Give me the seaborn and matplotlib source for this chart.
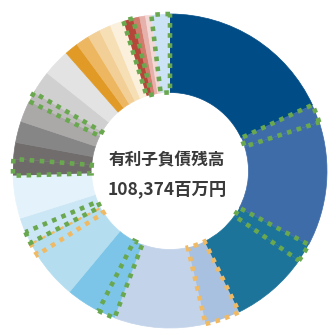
import matplotlib
matplotlib.use("Agg")
import matplotlib.pyplot as plt
import seaborn as sns

sns.set_theme(style="white")
plt.rcParams["font.family"] = ["Noto Sans CJK JP", "DejaVu Sans"]

# Share of interest-bearing debt by lender (%), clockwise from 12 o'clock
shares = [18.1, 1.9, 12.8, 1.9, 8.1, 3.6, 9.4, 1.8, 3.5, 5.0, 1.4, 1.2, 1.5,
          4.4, 1.7, 1.7, 2.2, 2.2, 1.0, 2.4, 2.8, 1.4, 1.4, 1.3, 1.2, 1.4,
          1.0, 0.7, 0.6, 0.6, 1.9]
colors = ["#004C86", "#3E6CA9", "#3E6CA9", "#1C749A", "#1C749A", "#A8C1E0",
          "#C3D4EA", "#7CC5E8", "#7CC5E8", "#B4DEF0", "#B4DEF0", "#CBE6F5",
          "#CBE6F5", "#E4F3FB", "#6E6A6A", "#716D6D", "#878686", "#ABA8A8",
          "#BDBBBB", "#D0D0D0", "#E3E3E3", "#E09A25", "#EDB762", "#F2CF96",
          "#F6DFB5", "#FAF0DC", "#B5473A", "#D07B6B", "#E6B1AB", "#F3D9D6",
          "#CCE3F5"]
# dotted outline marking: "g" green, "o" orange, "" none
outline = ["", "g", "", "g", "", "o", "", "g", "", "", "o", "g", "",
           "", "g", "", "", "", "g", "", "", "", "", "", "", "",
           "g", "", "", "", "g"]

title_text = "有利子負債残高"
total_text = "108,374百万円"

edge_colors = {"g": "#6AA84F", "o": "#F0B964"}

fig = plt.figure(figsize=(3.28, 3.30), dpi=100)
ax = fig.add_axes([13 / 328, 2 / 330, 314 / 328, 314 / 330])

wedges, _ = ax.pie(shares, colors=colors, startangle=90, counterclock=False,
                   radius=1.0, wedgeprops=dict(width=0.5, linewidth=0.5))

for w, mark in zip(wedges, outline):
    w.set_edgecolor(w.get_facecolor())
    if mark:
        w.set_edgecolor(edge_colors[mark])
        w.set_linewidth(3.3)
        w.set_linestyle((0, (1, 1.2)))
        w.set_zorder(3)
        w.set_clip_on(False)

ax.set_xlim(-1, 1)
ax.set_ylim(-1, 1)
ax.axis("off")

ax.text(-0.02, 0.065, title_text, ha="center", va="center", fontsize=12,
        fontweight="bold", color="#3A3A3A")
ax.text(-0.02, -0.115, total_text, ha="center", va="center", fontsize=12.5,
        fontweight="bold", color="#3A3A3A")

fig.savefig("out.png", dpi=100)
